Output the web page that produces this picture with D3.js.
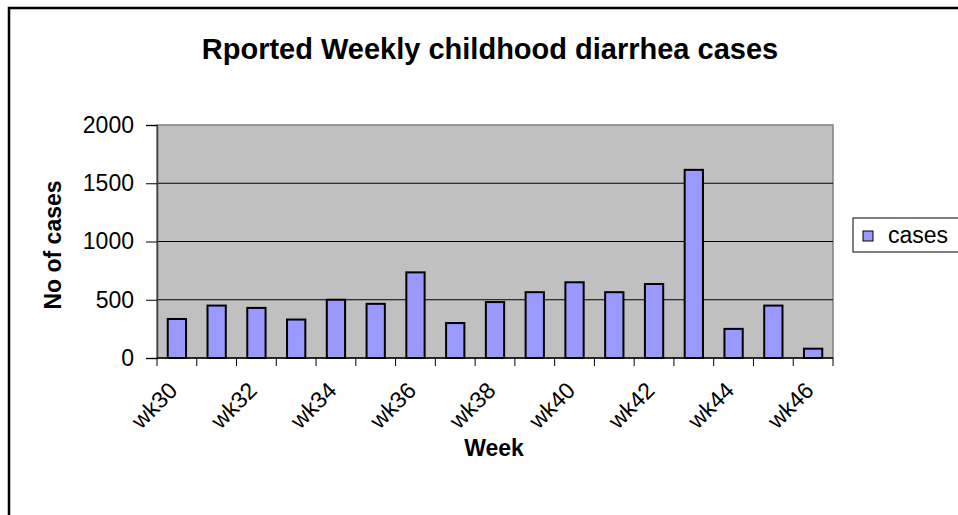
<!DOCTYPE html>
<html>
<head>
<meta charset="utf-8">
<script src="https://cdn.jsdelivr.net/npm/d3@7"></script>
<style>
  body { margin: 0; background: #fff; }
  text { font-family: Arial, "Liberation Sans", sans-serif; }
</style>
</head>
<body>
<div id="chart"></div>
<script>
////////////////////////////////////////////////////////////////////////
// data

let weeks = ["wk30","wk31","wk32","wk33","wk34","wk35","wk36","wk37","wk38",
             "wk39","wk40","wk41","wk42","wk43","wk44","wk45","wk46"];
let cases = [335, 450, 430, 330, 500, 465, 735, 300, 480,
             565, 650, 565, 635, 1615, 250, 450, 80];
let yTicks = [0, 500, 1000, 1500, 2000];
let seriesName = "cases";

////////////////////////////////////////////////////////////////////////
// globals

let width = 958, height = 515;
let plot = {left: 157, top: 125, right: 833, bottom: 358};

let xScale = d3.scaleBand().domain(weeks)
  .range([plot.left, plot.right]).paddingInner(0.54).paddingOuter(0.27);
let yScale = d3.scaleLinear().domain([0, 2000]).range([plot.bottom, plot.top]);

let svg = d3.select("#chart").append("svg")
  .attr("width", width)
  .attr("height", height);

// outer chart border, runs off the right and bottom edge
svg.append("rect")
  .attr("x", 9).attr("y", 8)
  .attr("width", 980).attr("height", 540)
  .attr("fill", "white")
  .attr("stroke", "black")
  .attr("stroke-width", 2.5);

// plot area
svg.append("rect")
  .attr("x", plot.left).attr("y", plot.top)
  .attr("width", plot.right - plot.left)
  .attr("height", plot.bottom - plot.top)
  .attr("fill", "#c0c0c0")
  .attr("stroke", "#808080")
  .attr("stroke-width", 1.5);

// gridlines
svg.append("g").selectAll("line")
  .data(yTicks.filter(function(d){ return d > 0 && d < 2000; }))
  .enter().append("line")
  .attr("x1", plot.left).attr("x2", plot.right)
  .attr("y1", function(d){ return yScale(d); })
  .attr("y2", function(d){ return yScale(d); })
  .attr("stroke", "black")
  .attr("stroke-width", 1);

// bars
svg.append("g").selectAll("rect")
  .data(cases)
  .enter().append("rect")
  .attr("x", function(d, i){ return xScale(weeks[i]); })
  .attr("y", function(d){ return yScale(d); })
  .attr("width", xScale.bandwidth())
  .attr("height", function(d){ return yScale(0) - yScale(d); })
  .attr("fill", "#9999ff")
  .attr("stroke", "black")
  .attr("stroke-width", 2);

// y axis
let yAxis = d3.axisLeft(yScale).tickValues(yTicks)
  .tickFormat(d3.format("d")).tickSize(11).tickPadding(12);
let gy = svg.append("g")
  .attr("transform", "translate(" + plot.left + ",0)")
  .call(yAxis);
gy.select(".domain").attr("stroke", "#404040").attr("stroke-width", 1.5);
gy.selectAll("text").attr("font-size", 23).attr("fill", "black");

// x axis: tick at every category boundary, label every other week
let step = xScale.step();
let gx = svg.append("g");
gx.append("line")
  .attr("x1", plot.left).attr("x2", plot.right)
  .attr("y1", plot.bottom).attr("y2", plot.bottom)
  .attr("stroke", "black").attr("stroke-width", 1.5);
gx.selectAll("line.tick")
  .data(d3.range(weeks.length + 1))
  .enter().append("line")
  .attr("class", "tick")
  .attr("x1", function(i){ return plot.left + i * step; })
  .attr("x2", function(i){ return plot.left + i * step; })
  .attr("y1", plot.bottom).attr("y2", plot.bottom + 8)
  .attr("stroke", "black");
gx.selectAll("text")
  .data(weeks.filter(function(d, i){ return i % 2 == 0; }))
  .enter().append("text")
  .attr("text-anchor", "end")
  .attr("font-size", 23)
  .attr("transform", function(d){
    let cx = xScale(d) + xScale.bandwidth() / 2;
    return "translate(" + (cx + 2) + "," + (plot.bottom + 34) + ") rotate(-45)";
  })
  .text(function(d){ return d; });

// titles
svg.append("text")
  .attr("x", 490).attr("y", 59)
  .attr("text-anchor", "middle")
  .attr("font-size", 29).attr("font-weight", "bold")
  .text("Rported Weekly childhood diarrhea cases");

svg.append("text")
  .attr("transform", "translate(61,245) rotate(-90)")
  .attr("text-anchor", "middle")
  .attr("font-size", 23).attr("font-weight", "bold")
  .text("No of cases");

svg.append("text")
  .attr("x", 494).attr("y", 456)
  .attr("text-anchor", "middle")
  .attr("font-size", 23).attr("font-weight", "bold")
  .text("Week");

// legend
let legend = svg.append("g").attr("transform", "translate(853,218)");
legend.append("rect")
  .attr("width", 130).attr("height", 34)
  .attr("fill", "white").attr("stroke", "black").attr("stroke-width", 1);
legend.append("rect")
  .attr("x", 10).attr("y", 13).attr("width", 10).attr("height", 10)
  .attr("fill", "#9999ff").attr("stroke", "black").attr("stroke-width", 1);
legend.append("text")
  .attr("x", 35).attr("y", 25)
  .attr("font-size", 23)
  .text(seriesName);
</script>
</body>
</html>
